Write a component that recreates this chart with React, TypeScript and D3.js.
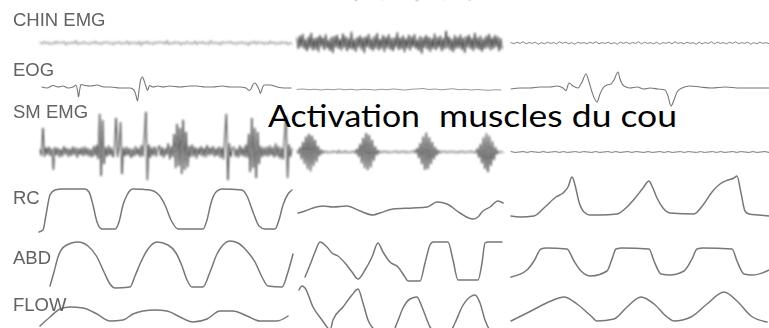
import React from "react";
import * as d3 from "d3";

type Pt = [number, number];

// ---- recording data ------------------------------------------------------
// Three excerpts of a polysomnogram; time is in seconds from each excerpt's start.
const epochDurations = [25.4, 20.6, 25.8];

const channelNames = ["CHIN EMG", "EOG", "SM EMG", "RC", "ABD", "FLOW"];

const captionWords = ["Activation", "muscles du cou"];

// Chin EMG, evenly sampled (µV)
const chinEmg1 = [2,-3,4,-2,3,-4,1,-3,5,-2,3,-1,4,-5,2,-3,3,-2,6,-4,2,-3,4,-2,1,-4,3,-2,5,-3,2,-4,3,-1,4,-3,2,-5,3,-2,4,-3,1,-2,5,-4,3,-2,2,-3,4,-6,3,-2,5,-3,2,-4,3,-2,4,-1,3,-3,6,-4,2,-3,4,-2,3,-5,2,-3,4,-2,1,-3,5,-4,3,-2,4,-3,2,-4,6,-2,3,-3,2,-5,4,-2,3,-1,5,-3,2,-4,3,-2,4,-3,2,-6,3,-2,5,-3,4,-2,3,-4,2,-3,5,-2,3,-4,2,-3,4,-2,3,-5,2,-3];
const chinEmg2 = [12,-15,18,-10,22,-14,9,-20,16,-12,25,-18,11,-16,14,-22,19,-9,13,-17,21,-13,8,-19,15,-24,17,-11,20,-15,10,-18,23,-12,16,-20,12,-14,28,-16,9,-21,14,-11,18,-17,13,-25,16,-10,22,-15,11,-19,17,-13,24,-18,10,-14,19,-22,15,-12,21,-16,12,-20,14,-11,26,-17,13,-15,18,-23,11,-13,20,-18,16,-10,22,-14,9,-19,17,-26,13,-12,19,-16,15,-21,11,-14,23,-17,14,-11,18,-20,12,-15,30,-13,16,-18,10,-22,19,-14,15,-12,21,-17,13,-24,16,-11,20,-15,12,-19,25,-13,14,-16,18,-21,11,-14,17,-12,22,-18,13,-15,19,-10,16,-20,12,-14];
const chinEmg3 = [1,-2,2,-1,3,-2,1,-1,2,-3,1,-2,2,-1,1,-2,3,-1,2,-2,1,-3,2,-1,1,-2,2,-1,3,-2,1,-1,2,-2,1,-3,2,-1,2,-2,1,-1,3,-2,2,-1,1,-2,2,-3,1,-1,2,-2,3,-1,1,-2,2,-1,1,-3,2,-2,1,-1,3,-2,2,-1,1,-2,2,-1,3,-2,1,-1,2,-3,1,-2,2,-1,1,-2];

// Submental / neck EMG, evenly sampled (µV)
const smEmg1 = [6,-9,60,-12,11,-7,13,-10,8,-45,12,-8,10,-13,7,-11,14,-6,10,-12,8,-10,13,-7,11,-14,9,-7,11,-10,13,-8,10,-11,7,-13,15,-9,18,-17,95,-60,80,-30,12,-11,16,-8,11,-13,9,85,-12,14,75,-55,11,-10,13,-8,10,-15,8,-11,14,-7,10,-12,17,-11,40,100,-70,18,-14,11,-9,13,-11,8,16,-10,12,-14,9,-7,21,-18,14,-12,45,-40,70,-35,60,-55,80,-45,50,-38,15,-13,18,-11,12,-16,10,-8,14,-11,10,-13,17,-9,11,-7,14,-12,9,-10,13,-15,11,-18,40,95,-70,21,-12,10,13,-11,8,-14,16,-9,11,-12,18,-14,45,-50,85,-40,60,-65,50,-30,15,-12,11,-10,13,-11,16,-8,12,-13,21,-11,14,-16,11,-18,40,90,-65,18,-12,9];
const smEmg2 = [3,-4,12,-18,25,-30,38,-42,45,-48,40,-35,30,-25,15,-10,6,-4,3,-2,2,-3,1,-2,3,-1,2,-3,4,-2,1,-2,3,-2,1,-3,2,-1,3,-4,8,-12,20,-28,35,-40,47,-45,42,-38,30,-22,14,-8,5,-3,2,-2,3,-1,2,-3,1,-2,2,-1,3,-2,1,-2,3,-1,2,-3,1,-2,2,-1,4,-3,10,-15,22,-30,38,-44,48,-42,36,-30,25,-18,12,-8,5,-3,2,-1,3,-2,1,-2,3,-1,2,-2,1,-3,2,-1,3,-2,1,-2,2,-1,3,-2,1,-3,9,-14,20,-28,36,-42,46,-50,40,-34,26,-20,12,-6,3,-2,1,-1];
const smEmg3 = [1,-1,0,1,-1,1,0,-1,1,-1,0,1,-1,1,-1,0,1,-1,1,0,-1,1,-1,0,1,-1,1,-1,0,1,-1,1,0,-1,1,-1,0,1,-1,1,-1,0,1,-1,1,0,-1,1,-1,0,1,-1,1,-1,0,1,-1,1,0,-1,1,-1,0,1,-1];

// Tail of the channel above the chin EMG (µV), evenly sampled
const upperTrace = [-1,1,-4,1,-1,0,-7,2,-1,1,-3,0,-5,1,-1,2,-4,1,-1,0,-8,1,-2,1,-1,2,-5,0,-1,1,-3,1,-6,1,-2,0,-3,1,-4,1];

// EOG as [s, µV]
const eog1: Pt[] = [[0.3,4],[0.8,0],[1.4,10],[1.9,4],[2.4,8],[2.9,0],[3.4,4],[3.7,12],[3.85,-10],[3.95,-36],[4.05,-12],[4.2,14],[4.6,10],[5.2,8],[5.8,12],[6.5,4],[7.1,4],[8.1,0],[9.1,0],[9.5,-8],[9.7,-30],[9.85,-52],[10.0,-10],[10.15,30],[10.35,44],[10.5,30],[10.7,6],[10.85,-10],[11.05,10],[11.4,4],[11.9,8],[12.4,4],[13.1,8],[14.1,4],[15.1,8],[15.8,8],[16.6,4],[17.4,4],[18.3,8],[19.1,4],[20.1,4],[20.7,0],[21.0,-10],[21.2,-4],[21.4,14],[21.6,20],[21.8,10],[22.0,-6],[22.15,-22],[22.3,-4],[22.5,12],[23.1,12],[23.8,4],[24.5,0],[25.2,0]];
const eog2: Pt[] = [[0,-6],[0.6,-4],[1.2,-7],[1.8,-5],[2.4,-8],[3.0,-5],[3.6,-7],[4.2,-4],[4.8,-7],[5.4,-5],[6.0,-8],[6.6,-5],[7.2,-6],[7.8,-8],[8.4,-5],[9.0,-7],[9.6,-4],[10.2,-6],[10.8,-8],[11.4,-5],[12.0,-4],[12.6,-2],[13.2,-6],[13.8,-4],[14.4,-7],[15.0,-5],[15.6,-3],[16.2,-7],[16.8,-5],[17.4,-8],[18.0,-6],[18.6,-8],[19.2,-9],[19.8,-7],[20.4,-8]];
const eog3: Pt[] = [[0,-4],[0.9,0],[1.9,0],[2.9,4],[3.9,4],[4.6,8],[5.2,0],[5.5,-10],[5.8,20],[6.2,8],[6.7,0],[7.1,24],[7.5,56],[7.8,24],[8.1,-16],[8.6,-56],[8.9,-24],[9.2,0],[9.6,12],[10.0,16],[10.3,32],[10.7,64],[10.9,36],[11.3,8],[11.9,0],[12.6,4],[13.3,-4],[13.9,0],[14.7,-4],[15.4,-8],[15.7,-32],[16.0,-72],[16.3,-48],[16.6,-16],[17.1,0],[17.9,8],[18.9,4],[20.1,0],[21.4,4],[22.9,0],[24.4,0],[25.8,0]];

// Rib-cage effort (a.u.) as [s, value]
const rc1: Pt[] = [[0,-54],[0.4,-50],[0.7,-20],[1.1,20],[1.6,30],[2.3,32],[4.6,32],[5.0,26],[5.4,0],[5.8,-34],[6.3,-48],[7.6,-48],[8.0,-34],[8.4,0],[8.8,20],[9.4,32],[11.1,30],[11.9,22],[12.6,0],[13.2,-30],[13.9,-48],[16.4,-48],[16.8,-30],[17.2,4],[17.7,26],[18.3,32],[20.3,30],[20.8,18],[21.4,-14],[22.0,-42],[22.6,-48],[23.6,-48],[24.0,-30],[24.4,0],[24.9,22],[25.3,30]];
const rc2: Pt[] = [[0.1,-16],[0.8,-12],[1.6,-6],[2.6,-2],[3.6,-4],[5.0,-2],[6.3,-12],[7.6,-20],[8.3,-16],[9.6,-8],[11.6,-6],[13.0,-4],[14.0,6],[15.0,2],[16.3,-16],[17.6,-28],[18.1,-24],[18.5,-14],[19.3,-4],[20.1,8],[20.6,4]];
const rc3: Pt[] = [[0,-22],[0.9,-24],[2.3,-22],[3.4,-4],[4.5,16],[5.2,24],[5.7,36],[6.1,56],[6.4,40],[6.8,6],[7.3,-14],[7.9,-20],[8.9,-20],[10.6,-18],[11.6,-4],[12.5,16],[13.2,34],[13.8,48],[14.1,38],[14.6,14],[15.2,-6],[15.9,-16],[18.3,-18],[19.2,0],[20.1,26],[20.9,42],[21.7,50],[22.3,54],[22.6,58],[23.0,24],[23.4,-12],[23.8,-18],[24.7,-20],[25.8,-22]];

// Abdominal effort (a.u.) as [s, value]
const abd1: Pt[] = [[1.1,-42],[1.5,-14],[1.9,16],[2.6,38],[3.9,46],[4.9,38],[5.8,16],[6.5,-14],[7.1,-38],[7.6,-46],[9.1,-44],[9.6,-22],[10.1,2],[10.9,32],[11.8,46],[12.9,40],[13.7,24],[14.3,-2],[14.8,-30],[15.3,-44],[16.4,-44],[17.1,-14],[17.8,22],[18.4,40],[19.1,48],[19.9,44],[20.7,30],[21.6,6],[22.3,-24],[22.9,-42],[24.3,-44],[24.9,-14],[25.4,22]];
const abd2: Pt[] = [[0.8,-24],[1.3,0],[1.8,26],[2.3,46],[3.0,36],[3.5,24],[4.1,18],[4.8,4],[5.5,-14],[6.1,-28],[6.8,-10],[7.5,16],[8.1,44],[8.6,26],[9.3,6],[10.1,-4],[10.8,-24],[11.1,-32],[12.3,-32],[12.8,4],[13.3,40],[13.6,46],[15.1,46],[15.6,10],[16.1,-30],[18.1,-30],[18.5,4],[18.8,44],[19.1,46],[20.5,46]];
const abd3: Pt[] = [[0,-24],[1.6,-10],[2.3,8],[3.0,32],[3.5,34],[5.6,32],[6.3,8],[7.0,-12],[8.0,-22],[9.6,-12],[10.1,12],[10.5,32],[11.1,34],[13.8,32],[14.3,8],[15.0,-18],[15.9,-20],[17.3,-12],[18.1,12],[18.6,32],[19.2,34],[22.1,32],[22.6,8],[23.3,-18],[24.1,-20],[25.6,-12],[25.8,-10]];

// Airflow (a.u.) as [s, value]
const flow1: Pt[] = [[0.1,-36],[1.1,-18],[2.1,-2],[3.1,2],[4.4,0],[5.8,-12],[7.1,-26],[8.4,-24],[9.4,-12],[10.4,-6],[11.6,-4],[12.8,-6],[14.1,-18],[15.4,-28],[16.8,-22],[18.1,-6],[19.4,-6],[20.8,-16],[22.1,-26],[23.8,-26],[24.9,-16]];
const flow2: Pt[] = [[0.2,36],[0.5,44],[0.8,40],[1.6,2],[2.5,-24],[3.0,-38],[3.3,-44],[3.6,-24],[4.6,2],[5.5,26],[6.1,38],[6.6,10],[7.1,-24],[7.5,-38],[8.5,-50],[9.5,-50],[10.0,-30],[10.6,0],[11.3,18],[12.0,22],[12.5,2],[13.0,-24],[13.3,-38],[14.0,-50],[15.2,-50],[15.8,-30],[16.5,2],[17.3,22],[17.8,26],[18.3,10],[18.8,-24],[19.1,-38],[19.6,-50],[20.6,-50]];
const flow3: Pt[] = [[0,-26],[2.0,-6],[4.0,14],[5.3,22],[6.6,8],[8.0,-16],[8.6,-26],[10.3,-22],[11.6,2],[13.0,22],[14.3,8],[15.6,-18],[16.3,-26],[18.0,-18],[19.6,8],[21.3,32],[22.6,14],[24.0,-16],[25.6,-28]];

// ---- layout -----------------------------------------------------------------
const WIDTH = 769;
const HEIGHT = 328;
const PX_PER_S = 10;
const EPOCH_LEFT = [39, 297, 511];

type Channel = "upper" | "chin" | "eog" | "sm" | "rc" | "abd" | "flow";
const CHANNEL_MID: Record<Channel, number> = { upper: -2, chin: 43, eog: 88, sm: 152, rc: 205, abd: 265, flow: 308 };
const PX_PER_UNIT: Record<Channel, number> = { upper: 0.4, chin: 0.4, eog: 0.25, sm: 0.4, rc: 0.5, abd: 0.5, flow: 0.5 };
const LABEL_BASELINE = [26, 76, 118, 204, 264, 311];

// spread evenly sampled values across a time span
function sampled(values: number[], t0: number, t1: number): Pt[] {
  const step = (t1 - t0) / (values.length - 1);
  return values.map((v, i) => [t0 + i * step, v] as Pt);
}

interface Trace {
  ch: Channel;
  epoch: number;
  pts: Pt[];
  smooth: boolean;
  width: number;
  color: string;
  dense?: boolean;
}

const EMG_INK = "#1c1c1c";
const WAVE_INK = "#777";

export default function App() {
  const xScales = epochDurations.map((d, i) =>
    d3.scaleLinear().domain([0, d]).range([EPOCH_LEFT[i], EPOCH_LEFT[i] + d * PX_PER_S])
  );
  const yScale = (ch: Channel) =>
    d3.scaleLinear().domain([0, 1]).range([CHANNEL_MID[ch], CHANNEL_MID[ch] - PX_PER_UNIT[ch]]);

  const traces: Trace[] = [
    { ch: "upper", epoch: 1, pts: sampled(upperTrace, 3.3, 20.3), smooth: false, width: 0.7, color: "#aaa" },
    { ch: "chin", epoch: 0, pts: sampled(chinEmg1, 0.1, 25.3), smooth: false, width: 0.8, color: "#444", dense: true },
    { ch: "chin", epoch: 1, pts: sampled(chinEmg2, 0, 20.5), smooth: false, width: 1.0, color: EMG_INK, dense: true },
    { ch: "chin", epoch: 2, pts: sampled(chinEmg3, 0, 25.8), smooth: false, width: 0.8, color: "#666" },
    { ch: "eog", epoch: 0, pts: eog1, smooth: true, width: 1.1, color: WAVE_INK },
    { ch: "eog", epoch: 1, pts: eog2, smooth: true, width: 1.0, color: "#999" },
    { ch: "eog", epoch: 2, pts: eog3, smooth: true, width: 1.1, color: WAVE_INK },
    { ch: "sm", epoch: 0, pts: sampled(smEmg1, 0.1, 25.3), smooth: false, width: 0.9, color: EMG_INK, dense: true },
    { ch: "sm", epoch: 1, pts: sampled(smEmg2, 0, 20.6), smooth: false, width: 0.9, color: EMG_INK, dense: true },
    { ch: "sm", epoch: 2, pts: sampled(smEmg3, 0, 25.8), smooth: false, width: 0.9, color: "#666" },
    { ch: "rc", epoch: 0, pts: rc1, smooth: true, width: 1.5, color: WAVE_INK },
    { ch: "rc", epoch: 1, pts: rc2, smooth: true, width: 1.5, color: WAVE_INK },
    { ch: "rc", epoch: 2, pts: rc3, smooth: true, width: 1.5, color: WAVE_INK },
    { ch: "abd", epoch: 0, pts: abd1, smooth: true, width: 1.5, color: WAVE_INK },
    { ch: "abd", epoch: 1, pts: abd2, smooth: true, width: 1.5, color: WAVE_INK },
    { ch: "abd", epoch: 2, pts: abd3, smooth: true, width: 1.5, color: WAVE_INK },
    { ch: "flow", epoch: 0, pts: flow1, smooth: true, width: 1.5, color: WAVE_INK },
    { ch: "flow", epoch: 1, pts: flow2, smooth: true, width: 1.5, color: WAVE_INK },
    { ch: "flow", epoch: 2, pts: flow3, smooth: true, width: 1.5, color: WAVE_INK },
  ];

  const drawTrace = (tr: Trace, k: number) => {
    const xs = xScales[tr.epoch];
    const ys = yScale(tr.ch);
    const line = d3
      .line<Pt>()
      .x((p) => xs(p[0]))
      .y((p) => ys(p[1]))
      .curve(tr.smooth ? d3.curveMonotoneX : d3.curveLinear);
    return (
      <path
        key={k}
        d={line(tr.pts) ?? ""}
        fill="none"
        stroke={tr.color}
        strokeWidth={tr.width}
        strokeLinejoin="round"
        strokeLinecap="round"
      />
    );
  };

  return (
    <svg
      width={WIDTH}
      height={HEIGHT}
      viewBox={`0 0 ${WIDTH} ${HEIGHT}`}
      style={{ position: "absolute", left: 0, top: 0, background: "#fff" }}
    >
      <defs>
        <filter id="soft" filterUnits="userSpaceOnUse" x={0} y={0} width={WIDTH} height={HEIGHT}>
          <feGaussianBlur stdDeviation={0.6} />
        </filter>
        <filter id="smear" filterUnits="userSpaceOnUse" x={0} y={0} width={WIDTH} height={HEIGHT}>
          <feGaussianBlur stdDeviation={0.85} />
        </filter>
      </defs>
      <rect width={WIDTH} height={HEIGHT} fill="#fff" />
      <g filter="url(#smear)">
        {traces.map((tr, k) => (tr.dense ? drawTrace(tr, k) : null))}
      </g>
      <g filter="url(#soft)">
        {traces.map((tr, k) => (tr.dense ? null : drawTrace(tr, k)))}
        {channelNames.map((name, i) => (
          <text
            key={name}
            x={13}
            y={LABEL_BASELINE[i]}
            fontFamily="'Liberation Sans', Arial, sans-serif"
            fontSize={18.5}
            fill="#626262"
          >
            {name}
          </text>
        ))}
      </g>
      <g fontFamily="Lato, 'Open Sans', sans-serif" fontSize={31} fill="#000">
        <text x={268} y={127} textLength={152} lengthAdjust="spacingAndGlyphs">
          {captionWords[0]}
        </text>
        <text x={439} y={127} textLength={238} lengthAdjust="spacingAndGlyphs">
          {captionWords[1]}
        </text>
      </g>
    </svg>
  );
}
